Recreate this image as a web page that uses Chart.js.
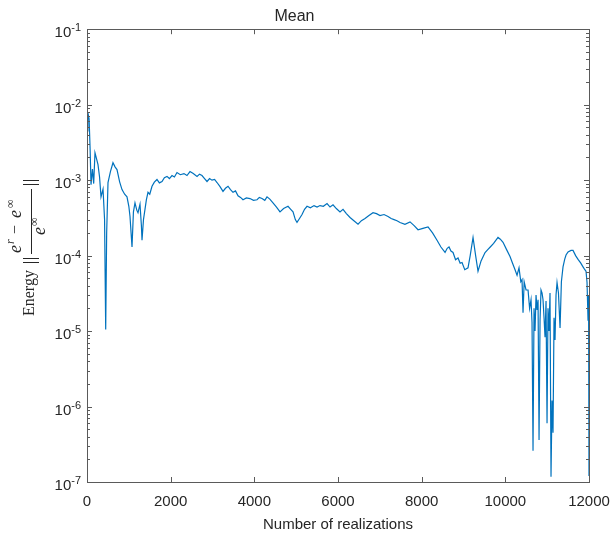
<!DOCTYPE html>
<html>
<head>
<meta charset="utf-8">
<title>Mean</title>
<script src="https://cdn.jsdelivr.net/npm/chart.js@4.4.1/dist/chart.umd.min.js"></script>
<style>
  html, body { margin: 0; padding: 0; background: #fff; }
  #wrap { width: 612px; height: 542px; }
</style>
</head>
<body>
<div id="wrap"><canvas id="meanChart" width="612" height="542"></canvas></div>
<script>
// Mean - relative energy error against the number of realizations
const realizations = [
  0, 20, 50, 75, 96, 130, 160, 191, 230, 263, 300, 335, 383, 420, 447, 470, 502, 560, 621, 670,
  717, 780, 837, 900, 956, 1000, 1028, 1076, 1110, 1147, 1190, 1219, 1267, 1300, 1315, 1350, 1386, 1420, 1458, 1500,
  1554, 1610, 1673, 1730, 1793, 1850, 1912, 1970, 2032, 2090, 2151, 2230, 2318, 2390, 2462, 2540, 2630, 2690, 2749, 2810,
  2869, 2930, 2988, 3050, 3108, 3180, 3251, 3310, 3371, 3430, 3490, 3550, 3610, 3670, 3729, 3810, 3896, 3980, 4064, 4120,
  4183, 4250, 4303, 4370, 4446, 4530, 4614, 4700, 4805, 4870, 4925, 4980, 5020, 5080, 5140, 5200, 5260, 5340, 5427, 5500,
  5570, 5650, 5738, 5810, 5881, 5960, 6048, 6120, 6200, 6288, 6380, 6479, 6560, 6646, 6740, 6837, 6920, 7005, 7100, 7196,
  7270, 7340, 7410, 7483, 7600, 7722, 7820, 7913, 8030, 8152, 8260, 8367, 8460, 8559, 8610, 8654, 8700, 8750, 8810, 8869,
  8920, 8965, 9030, 9108, 9160, 9228, 9290, 9347, 9420, 9515, 9580, 9634, 9720, 9825, 9880, 9945, 10030, 10112, 10170, 10232,
  10280, 10327, 10370, 10399, 10423, 10450, 10495, 10543, 10580, 10614, 10638, 10662, 10686, 10710, 10734, 10758, 10782, 10806, 10830, 10853,
  10877, 10901, 10925, 10949, 10973, 10997, 11020, 11044, 11068, 11092, 11116, 11140, 11164, 11188, 11212, 11236, 11270, 11308, 11340, 11379,
  11420, 11451, 11499, 11570, 11618, 11680, 11738, 11800, 11857, 11900, 11929, 11953, 11977, 11990, 12000
];
const energyMean = [
  4.5e-3, 7.9e-3, 6.5e-3, 2.5e-3, 8.7e-4, 1.4e-3, 9e-4, 2.3e-3, 1.9e-3, 1.6e-3, 1.1e-3, 6e-4, 7.6e-4, 3e-4, 1.05e-5, 2e-4, 9.3e-4, 1.3e-3, 1.7e-3, 1.5e-3,
  1.38e-3, 9.5e-4, 7.5e-4, 6.5e-4, 6e-4, 4.5e-4, 3.3e-4, 1.3e-4, 3.8e-4, 5e-4, 4e-4, 3.7e-4, 4.8e-4, 2.5e-4, 1.6e-4, 3e-4, 4.1e-4, 5.5e-4, 6.9e-4, 6.5e-4,
  8.3e-4, 9.4e-4, 1.02e-3, 9.2e-4, 9.6e-4, 1.08e-3, 1.12e-3, 1.05e-3, 1.15e-3, 1.1e-3, 1.26e-3, 1.18e-3, 1.22e-3, 1.15e-3, 1.3e-3, 1.22e-3, 1.12e-3, 1.2e-3, 1.15e-3, 1.05e-3,
  9.6e-4, 1.05e-3, 1.0e-3, 1.02e-3, 9.3e-4, 8.2e-4, 7.1e-4, 7.8e-4, 8.3e-4, 7.5e-4, 6.9e-4, 7.2e-4, 6.2e-4, 5.9e-4, 5.5e-4, 5.8e-4, 5.7e-4, 5.4e-4, 5.5e-4, 5.9e-4,
  5.7e-4, 5.4e-4, 6e-4, 5.6e-4, 5e-4, 4.4e-4, 3.8e-4, 4.2e-4, 4.5e-4, 4.1e-4, 3.8e-4, 3.0e-4, 2.75e-4, 3.1e-4, 3.5e-4, 4.1e-4, 4.5e-4, 4.3e-4, 4.6e-4, 4.4e-4,
  4.6e-4, 4.5e-4, 4.9e-4, 4.4e-4, 4.7e-4, 4.2e-4, 3.8e-4, 4.1e-4, 3.6e-4, 3.2e-4, 2.9e-4, 2.6e-4, 2.9e-4, 3.1e-4, 3.4e-4, 3.7e-4, 3.6e-4, 3.4e-4, 3.5e-4, 3.3e-4,
  3.1e-4, 3.0e-4, 2.9e-4, 2.75e-4, 2.6e-4, 2.8e-4, 2.5e-4, 2.2e-4, 2.3e-4, 2.4e-4, 2.0e-4, 1.6e-4, 1.3e-4, 1.1e-4, 1.25e-4, 1.3e-4, 1.15e-4, 1.1e-4, 8.8e-5, 9.3e-5,
  7.9e-5, 8.1e-5, 6.5e-5, 6.9e-5, 1.0e-4, 1.74e-4, 1.0e-4, 6.2e-5, 8.5e-5, 1.1e-4, 1.2e-4, 1.29e-4, 1.45e-4, 1.74e-4, 1.65e-4, 1.5e-4, 1.2e-4, 9.7e-5, 8.0e-5, 6.5e-5,
  5.5e-5, 6.9e-5, 4.5e-5, 4.8e-5, 1.75e-5, 4.5e-5, 3.5e-5, 3.5e-5, 2.0e-5, 2.6e-5, 1.3e-5, 2.6e-7, 2.0e-5, 1.0e-5, 3.0e-5, 1.9e-5, 2.6e-5, 3.6e-7, 1.4e-5, 3.5e-5,
  3.2e-5, 2.6e-5, 1.5e-5, 8.3e-6, 2.5e-5, 6e-7, 2.0e-5, 1.0e-5, 3.2e-5, 1.17e-7, 1.2e-6, 4.5e-7, 1.5e-5, 7.6e-6, 3.0e-5, 4.4e-5, 3.2e-5, 1.1e-5, 4.5e-5, 7.1e-5,
  9.0e-5, 1.02e-4, 1.12e-4, 1.17e-4, 1.17e-4, 1.0e-4, 8.9e-5, 8.0e-5, 7.1e-5, 6.5e-5, 6.2e-5, 4.4e-5, 1.4e-5, 3.0e-5, 1.2e-7
];
const xTickValues = [0, 2000, 4000, 6000, 8000, 10000, 12000];
const yDecades = [-7, -6, -5, -4, -3, -2, -1];

const LINE_COLOR = '#0072BD';
const TEXT_COLOR = '#262626';
const AXIS_COLOR = '#5a5a5a';
const SANS = '"Liberation Sans", Arial, sans-serif';
const SERIF = '"Liberation Serif", "DejaVu Serif", serif';

// box, inward ticks, 10^n labels and the LaTeX-like y label, all placed from the chart's scales
const matlabAxes = {
  id: 'matlabAxes',
  afterDraw(chart) {
    const ctx = chart.ctx;
    const { left, right, top, bottom } = chart.chartArea;
    const xs = chart.scales.x, ys = chart.scales.y;
    ctx.save();
    ctx.strokeStyle = AXIS_COLOR;
    ctx.lineWidth = 1;
    ctx.strokeRect(Math.round(left) + 0.5, Math.round(top) + 0.5, Math.round(right - left), Math.round(bottom - top));

    ctx.beginPath();
    xTickValues.forEach(v => {
      const px = Math.round(xs.getPixelForValue(v)) + 0.5;
      ctx.moveTo(px, bottom); ctx.lineTo(px, bottom - 5);
      ctx.moveTo(px, top); ctx.lineTo(px, top + 5);
    });
    yDecades.forEach(d => {
      const py = Math.round(ys.getPixelForValue(Math.pow(10, d))) + 0.5;
      ctx.moveTo(left, py); ctx.lineTo(left + 5, py);
      ctx.moveTo(right, py); ctx.lineTo(right - 5, py);
      if (d < -1) {
        for (let m = 2; m <= 9; m++) {
          const pm = Math.round(ys.getPixelForValue(m * Math.pow(10, d))) + 0.5;
          ctx.moveTo(left, pm); ctx.lineTo(left + 3, pm);
          ctx.moveTo(right, pm); ctx.lineTo(right - 3, pm);
        }
      }
    });
    ctx.stroke();

    // y tick labels as 10 with a raised exponent
    ctx.fillStyle = TEXT_COLOR;
    ctx.textBaseline = 'alphabetic';
    ctx.textAlign = 'left';
    yDecades.forEach(d => {
      const py = ys.getPixelForValue(Math.pow(10, d));
      const exp = String(d);
      ctx.font = '11px ' + SANS;
      const ew = ctx.measureText(exp).width;
      ctx.font = '15px ' + SANS;
      const bw = ctx.measureText('10').width;
      const x0 = left - 6 - ew - bw;
      ctx.fillText('10', x0, py + 8);
      ctx.font = '11px ' + SANS;
      ctx.fillText(exp, x0 + bw, py + 2);
    });

    drawYTitle(ctx);
    ctx.restore();
  }
};

function drawYTitle(ctx) {
  ctx.save();
  ctx.strokeStyle = TEXT_COLOR;
  ctx.fillStyle = TEXT_COLOR;
  ctx.lineWidth = 1;
  ctx.beginPath();
  [180.5, 184.5, 258.5, 262.5].forEach(y => { ctx.moveTo(23, y); ctx.lineTo(39, y); });
  ctx.moveTo(31.5, 189); ctx.lineTo(31.5, 254);
  ctx.stroke();

  // rotated: fillText(text, -screenY, screenX)
  ctx.rotate(-Math.PI / 2);
  ctx.textAlign = 'left';
  ctx.textBaseline = 'alphabetic';
  ctx.font = '16px ' + SERIF;
  ctx.fillText('Energy', -316, 34);
  ctx.font = 'italic 18px ' + SERIF;
  ctx.fillText('e', -253, 21);
  ctx.fillText('e', -218, 21);
  ctx.fillText('e', -235, 45);
  ctx.font = 'italic 12px ' + SERIF;
  ctx.fillText('r', -244, 14);
  ctx.font = '12px ' + SERIF;
  ctx.fillText('\u221E', -208, 14);
  ctx.fillText('\u221E', -226, 38);
  ctx.font = '16px ' + SERIF;
  ctx.fillText('\u2212', -234, 20);
  ctx.restore();
}

const ctx = document.getElementById('meanChart');
new Chart(ctx, {
  type: 'line',
  data: {
    datasets: [{
      label: 'Mean',
      data: realizations.map((r, i) => ({ x: r, y: energyMean[i] })),
      borderColor: LINE_COLOR,
      borderWidth: 1.2,
      pointRadius: 0,
      tension: 0,
      fill: false
    }]
  },
  options: {
    responsive: false,
    animation: false,
    layout: { padding: { top: 0, right: 23, left: 0, bottom: 0 } },
    plugins: {
      legend: { display: false },
      tooltip: { enabled: false },
      title: {
        display: true,
        text: 'Mean',
        color: TEXT_COLOR,
        font: { family: SANS, size: 16, weight: 'normal' },
        padding: { top: 7, bottom: 3 }
      }
    },
    scales: {
      x: {
        type: 'linear',
        min: 0,
        max: 12000,
        afterFit: s => { s.height = 60; s.paddingLeft = 0; s.paddingRight = 0; },
        afterBuildTicks: s => { s.ticks = xTickValues.map(v => ({ value: v })); },
        grid: { display: false, drawTicks: false },
        border: { display: false },
        ticks: {
          color: TEXT_COLOR, font: { family: SANS, size: 15 }, padding: 11, maxRotation: 0, autoSkip: false,
          callback: v => String(v)
        },
        title: { display: true, text: 'Number of realizations', color: TEXT_COLOR, font: { family: SANS, size: 15 }, padding: { top: 0, bottom: 8 } }
      },
      y: {
        type: 'logarithmic',
        min: 1e-7,
        max: 1e-1,
        afterFit: s => { s.width = 87; },
        grid: { display: false, drawTicks: false },
        border: { display: false },
        ticks: { display: false }
      }
    }
  },
  plugins: [matlabAxes]
});
</script>
</body>
</html>
